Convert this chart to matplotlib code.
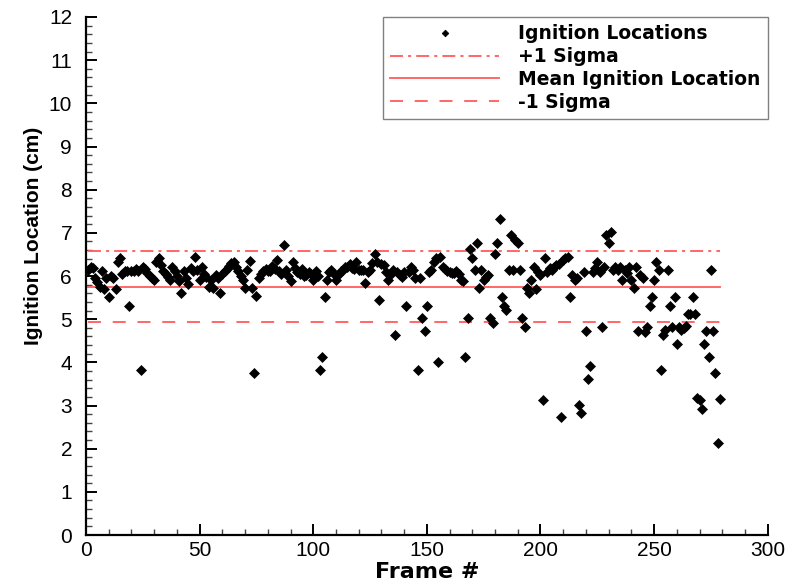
import numpy as np
import matplotlib
matplotlib.use("Agg")
import matplotlib.pyplot as plt
from matplotlib.ticker import MultipleLocator

# Ignition location (cm) recorded for each frame
ignition_cm = [
    6.14, 6.22, 6.18, 5.95, 5.85, 5.75, 6.12, 5.71, 5.95, 5.52,
    6.00, 5.95, 5.71, 6.33, 6.41, 6.05, 6.12, 6.12, 5.30, 6.12,
    6.12, 6.16, 6.12, 3.82, 6.22, 6.16, 6.07, 6.00, 5.95, 5.91,
    6.33, 6.41, 6.26, 6.12, 6.05, 5.98, 5.91, 6.22, 6.12, 6.00,
    5.88, 5.61, 6.12, 5.95, 5.82, 6.18, 6.12, 6.45, 6.14, 5.91,
    6.22, 6.05, 5.98, 5.75, 5.90, 5.72, 6.02, 5.95, 5.61, 6.05,
    6.12, 6.16, 6.24, 6.30, 6.33, 6.22, 6.12, 6.00, 5.91, 5.72,
    6.14, 6.35, 5.72, 3.75, 5.54, 5.95, 6.05, 6.12, 6.16, 6.12,
    6.12, 6.24, 6.16, 6.38, 6.12, 6.05, 6.72, 6.14, 6.00, 5.88,
    6.33, 6.18, 6.10, 6.05, 6.16, 6.00, 6.02, 6.10, 6.05, 5.91,
    6.12, 6.00, 3.82, 4.13, 5.52, 5.91, 6.10, 6.14, 6.05, 5.91,
    6.02, 6.12, 6.14, 6.22, 6.20, 6.28, 6.18, 6.16, 6.33, 6.14,
    6.14, 6.14, 5.83, 6.10, 6.14, 6.30, 6.52, 6.33, 5.44, 6.28,
    6.26, 6.10, 5.91, 6.02, 6.14, 4.63, 6.10, 6.02, 5.98, 6.10,
    5.30, 6.10, 6.22, 6.14, 5.95, 3.82, 5.95, 5.02, 4.73, 5.30,
    6.10, 6.14, 6.33, 6.41, 4.01, 6.45, 6.22, 6.16, 6.12, 6.10,
    6.08, 6.06, 6.12, 6.05, 5.91, 5.88, 4.13, 5.02, 6.62, 6.41,
    6.14, 6.76, 5.72, 6.14, 5.91, 5.98, 6.02, 5.02, 4.90, 6.52,
    6.76, 7.31, 5.52, 5.30, 5.21, 6.14, 6.95, 6.14, 6.83, 6.76,
    6.14, 5.02, 4.81, 5.72, 5.60, 5.91, 6.22, 5.70, 6.10, 6.02,
    3.13, 6.41, 6.10, 6.18, 6.14, 6.22, 6.26, 6.28, 2.73, 6.37,
    6.41, 6.45, 5.52, 6.02, 5.91, 5.95, 3.01, 2.82, 6.10, 4.73,
    3.61, 3.92, 6.10, 6.18, 6.33, 6.10, 4.83, 6.22, 6.95, 6.76,
    7.02, 6.14, 6.22, 6.14, 6.22, 5.91, 6.14, 6.08, 6.22, 5.91,
    5.72, 6.22, 4.73, 6.02, 5.95, 4.71, 4.83, 5.30, 5.52, 5.91,
    6.33, 6.14, 3.82, 4.63, 4.75, 6.14, 5.30, 4.83, 5.52, 4.42,
    4.83, 4.75, 4.79, 4.84, 5.11, 5.11, 5.52, 5.11, 3.17, 3.13,
    2.93, 4.42, 4.73, 4.13, 6.14, 4.73, 3.75, 2.14, 3.15,
]
frames = list(range(1, len(ignition_cm) + 1))

# Summary statistics of the ignition location
mean_cm = 5.75
sigma_cm = 0.82

series_labels = ["Ignition Locations", "+1 Sigma", "Mean Ignition Location", "-1 Sigma"]
x_ticks = [0, 50, 100, 150, 200, 250, 300]
y_ticks = list(range(0, 13))

line_color = "#ff5c5c"

fig = plt.figure(figsize=(7.89, 5.86), dpi=100)
ax = fig.add_axes([0.109, 0.087, 0.864, 0.884])

pts, = ax.plot(frames, ignition_cm, linestyle="none", marker="D", ms=4.9,
               mfc="black", mec="black", mew=0.5, label=series_labels[0], zorder=3)

x_span = [frames[0], frames[-1]]
up, = ax.plot(x_span, [mean_cm + sigma_cm] * 2, color=line_color, lw=1.3,
              dashes=(7.2, 2.8, 1.7, 2.8), label=series_labels[1], zorder=2)
mid, = ax.plot(x_span, [mean_cm] * 2, color=line_color, lw=1.3,
               linestyle="-", label=series_labels[2], zorder=2)
lo, = ax.plot(x_span, [mean_cm - sigma_cm] * 2, color=line_color, lw=1.3,
              dashes=(7.2, 6.5), label=series_labels[3], zorder=2)

ax.set_xlim(0, 300)
ax.set_ylim(0, 12)
ax.set_xticks(x_ticks)
ax.set_yticks(y_ticks)
ax.xaxis.set_minor_locator(MultipleLocator(10))
ax.yaxis.set_minor_locator(MultipleLocator(0.2))

for side in ("top", "right"):
    ax.spines[side].set_visible(False)
for side in ("left", "bottom"):
    ax.spines[side].set_linewidth(1.6)

tick_font = {"family": "Liberation Sans", "size": 15}
ax.tick_params(which="major", direction="in", length=8, width=1.4, color="black")
ax.tick_params(which="minor", direction="in", length=4.5, width=1.0, color="#444444")
ax.tick_params(axis="x", which="major", pad=4)
ax.tick_params(axis="y", which="major", pad=10)
for lab in ax.get_xticklabels() + ax.get_yticklabels():
    lab.set_fontfamily(tick_font["family"])
    lab.set_fontsize(tick_font["size"])

ax.set_xlabel("Frame #", fontfamily="DejaVu Sans", fontweight="bold", fontsize=16)
ax.set_ylabel("Ignition Location (cm)", fontfamily="Liberation Sans",
              fontweight="bold", fontsize=15)
ax.xaxis.set_label_coords(0.5, -0.052)
ax.yaxis.set_label_coords(-0.063, 0.577)

leg = ax.legend(handles=[pts, up, mid, lo], loc="upper right",
                bbox_to_anchor=(1.0, 1.0), borderaxespad=0.0,
                prop={"family": "DejaVu Sans", "weight": "bold", "size": 13.5},
                handlelength=5.8, handletextpad=1.0, labelspacing=0.2,
                borderpad=0.4, numpoints=1, markerscale=0.7,
                fancybox=False, framealpha=1.0, edgecolor="#808080")
leg.get_frame().set_linewidth(1.0)

fig.savefig("out.png", dpi=100)
